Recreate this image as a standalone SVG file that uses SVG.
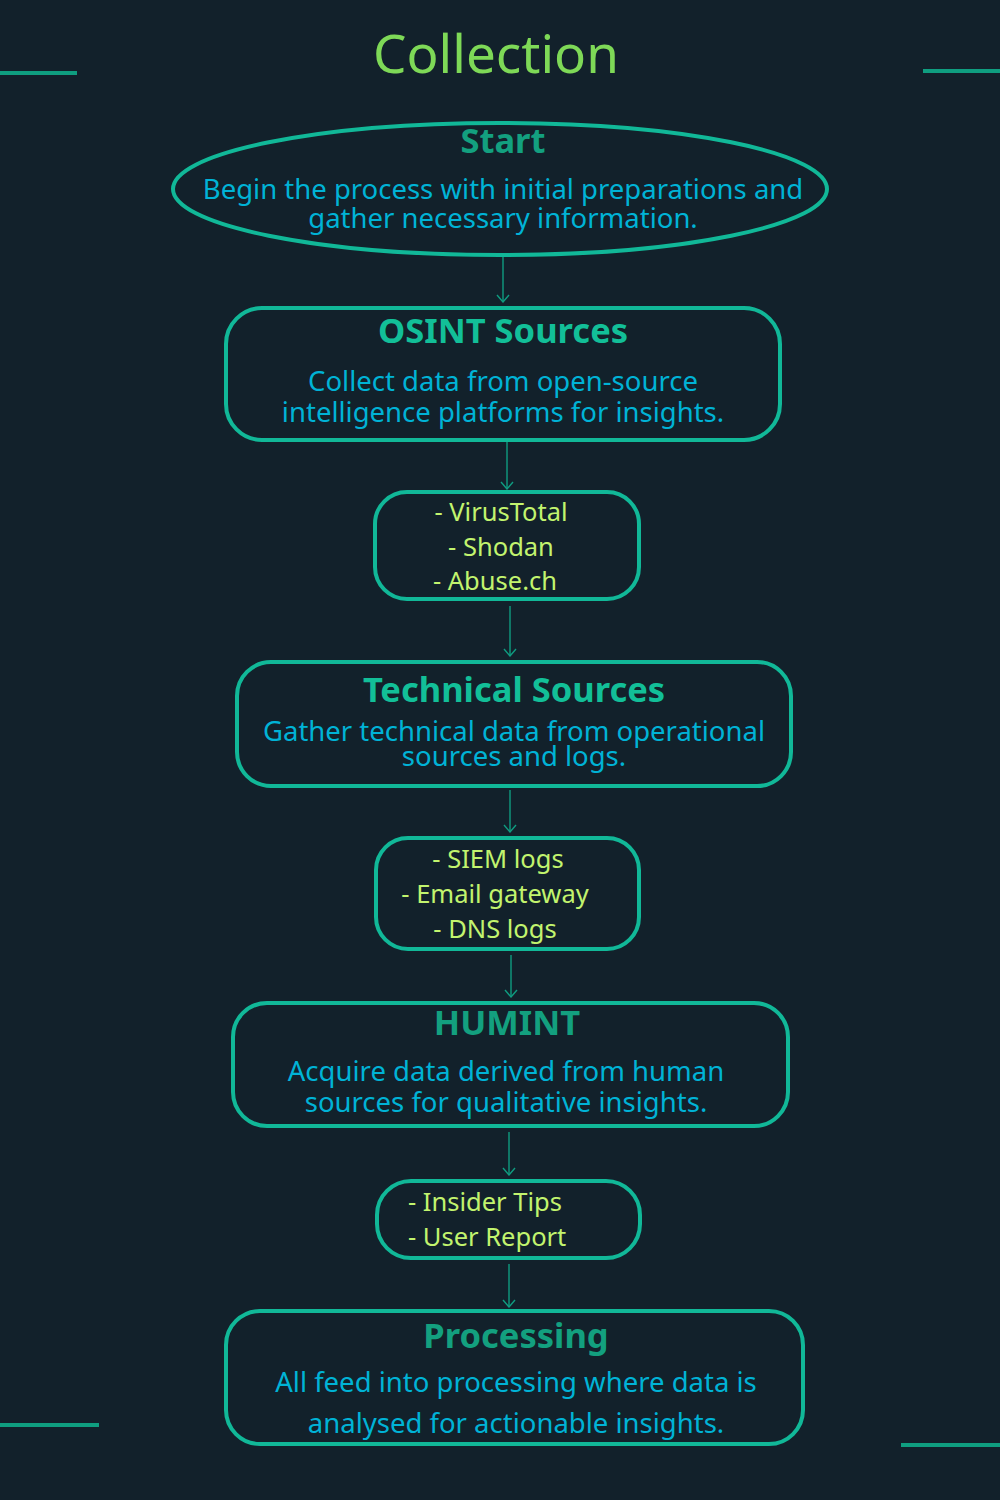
<svg xmlns="http://www.w3.org/2000/svg" width="1000" height="1500" viewBox="0 0 1000 1500">
  <defs>
    <marker id="arrow" viewBox="0 0 10 14" refX="9" refY="7" markerWidth="10" markerHeight="14" markerUnits="userSpaceOnUse" orient="auto">
      <path d="M2,1 L9,7 L2,13" fill="none" stroke="#0f9c80" stroke-width="1.4"/>
    </marker>
    <style>
      text { font-family: "Noto Sans", "Open Sans", sans-serif; text-anchor: middle; }
      .frame { fill: none; stroke: #11b898; stroke-width: 4; }
      .accent { stroke: #0f9e80; stroke-width: 4; }
      .title { font-size: 34.5px; font-weight: 700; fill: #12bf98; }
      .title-dim { font-size: 34.5px; font-weight: 700; fill: #13a07f; }
      .desc { font-size: 27.5px; fill: #00b3d6; }
      .item { font-size: 25.5px; fill: #c2f46e; }
      .link { stroke: #0f9c80; stroke-width: 1.4; fill: none; marker-end: url(#arrow); }
    </style>
  </defs>

  <rect width="1000" height="1500" fill="#12212b"/>

  <!-- corner accents -->
  <line class="accent" x1="0" y1="73" x2="77" y2="73"/>
  <line class="accent" x1="923" y1="71" x2="1000" y2="71"/>
  <line class="accent" x1="0" y1="1425" x2="99" y2="1425"/>
  <line class="accent" x1="901" y1="1445" x2="1000" y2="1445"/>

  <text x="496" y="73" style="font-size:53px; fill:#7ed957;">Collection</text>

  <g id="connectors">
    <line class="link" x1="503" y1="257" x2="503" y2="302"/>
    <line class="link" x1="507" y1="442" x2="507" y2="489"/>
    <line class="link" x1="510" y1="606" x2="510" y2="656"/>
    <line class="link" x1="510" y1="790" x2="510" y2="832"/>
    <line class="link" x1="511" y1="955" x2="511" y2="997"/>
    <line class="link" x1="509" y1="1132" x2="509" y2="1175"/>
    <line class="link" x1="509" y1="1264" x2="509" y2="1307"/>
  </g>

  <g id="start">
    <ellipse class="frame" cx="500" cy="189" rx="327" ry="66"/>
    <text class="title-dim" x="503" y="153">Start</text>
    <text class="desc" x="503" y="199">Begin the process with initial preparations and</text>
    <text class="desc" x="503" y="228">gather necessary information.</text>
  </g>

  <g id="osint">
    <rect class="frame" x="226" y="308" width="554" height="132" rx="36"/>
    <text class="title" x="503" y="343">OSINT Sources</text>
    <text class="desc" x="503" y="391">Collect data from open-source</text>
    <text class="desc" x="503" y="422">intelligence platforms for insights.</text>
  </g>

  <g id="osint-list">
    <rect class="frame" x="375" y="492" width="264" height="107" rx="32"/>
    <text class="item" x="501" y="521">- VirusTotal</text>
    <text class="item" x="501" y="556">- Shodan</text>
    <text class="item" x="495" y="590">- Abuse.ch</text>
  </g>

  <g id="technical">
    <rect class="frame" x="237" y="662" width="554" height="124" rx="34"/>
    <text class="title" x="514" y="702">Technical Sources</text>
    <text class="desc" x="514" y="741">Gather technical data from operational</text>
    <text class="desc" x="514" y="766">sources and logs.</text>
  </g>

  <g id="technical-list">
    <rect class="frame" x="376" y="838" width="263" height="111" rx="32"/>
    <text class="item" x="498" y="868">- SIEM logs</text>
    <text class="item" x="495" y="903">- Email gateway</text>
    <text class="item" x="495" y="938">- DNS logs</text>
  </g>

  <g id="humint">
    <rect class="frame" x="233" y="1003" width="555" height="123" rx="34"/>
    <text class="title-dim" x="507" y="1035">HUMINT</text>
    <text class="desc" x="506" y="1081">Acquire data derived from human</text>
    <text class="desc" x="506" y="1112">sources for qualitative insights.</text>
  </g>

  <g id="humint-list">
    <rect class="frame" x="377" y="1181" width="263" height="77" rx="34"/>
    <text class="item" x="408" y="1211" style="text-anchor:start">- Insider Tips</text>
    <text class="item" x="408" y="1246" style="text-anchor:start">- User Report</text>
  </g>

  <g id="processing">
    <rect class="frame" x="226" y="1311" width="577" height="133" rx="34"/>
    <text class="title-dim" x="516" y="1348">Processing</text>
    <text class="desc" x="516" y="1392">All feed into processing where data is</text>
    <text class="desc" x="516" y="1433">analysed for actionable insights.</text>
  </g>
</svg>
